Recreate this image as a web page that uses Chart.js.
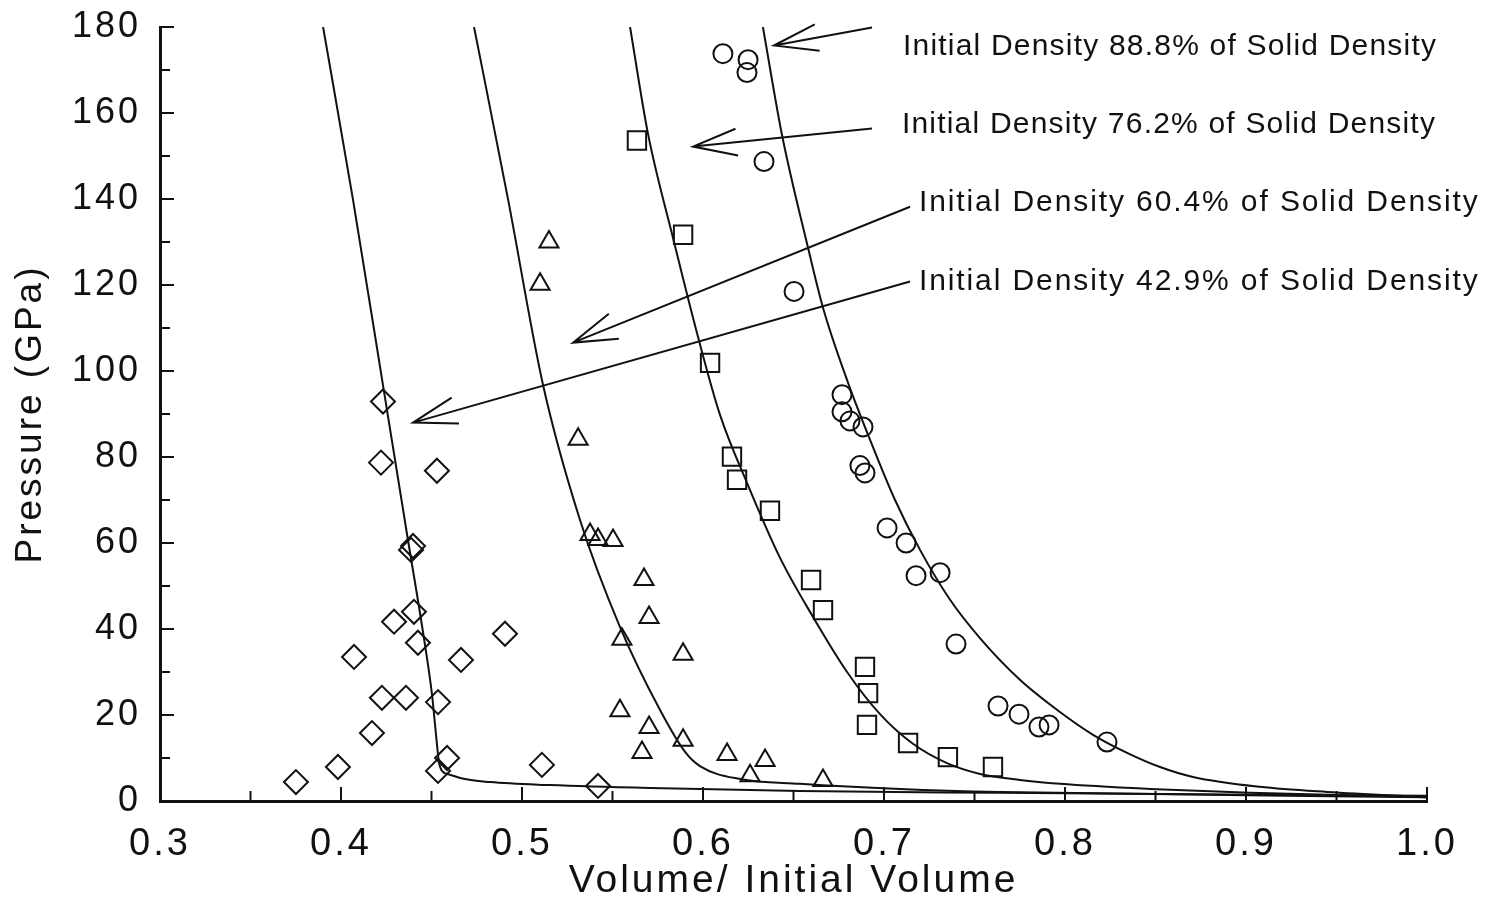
<!DOCTYPE html>
<html>
<head>
<meta charset="utf-8">
<title>Pressure vs Volume</title>
<script src="https://cdn.jsdelivr.net/npm/chart.js@4.4.0/dist/chart.umd.min.js"></script>
<style>
  html, body { margin: 0; padding: 0; background: #fff; }
  canvas { display: block; }
</style>
</head>
<body>
<canvas id="hugoniot" width="1486" height="907"></canvas>
<script>
// shock data, [V/V0, P in GPa], one list per starting density
const pts888 = [[0.611,173.8],[0.6249,172.4],[0.6243,169.4],[0.6337,148.7],[0.6503,118.5],
  [0.6768,94.5],[0.6768,90.5],[0.6812,88.4],[0.6884,87.0],[0.6867,78.0],[0.6895,76.3],
  [0.7017,63.5],[0.7122,60.0],[0.7177,52.4],[0.731,53.1],[0.7398,36.5],[0.763,22.1],
  [0.7746,20.2],[0.7856,17.2],[0.7912,17.7],[0.8232,13.7]]
const pts762 = [[0.5635,153.6],[0.589,131.7],[0.6039,101.9],[0.616,80.1],[0.6188,74.7],
  [0.637,67.5],[0.6597,51.4],[0.6663,44.4],[0.6895,31.2],[0.6912,25.1],[0.6906,17.7],
  [0.7133,13.5],[0.7353,10.2],[0.7602,7.9]]
const pts604 = [[0.5149,130.0],[0.51,120.2],[0.531,84.1],[0.5376,62.0],[0.542,60.8],
  [0.5503,60.6],[0.5674,51.5],[0.5702,42.7],[0.5552,37.6],[0.589,34.1],[0.5541,21.0],
  [0.5702,17.1],[0.5663,11.3],[0.589,14.1],[0.6133,10.8],[0.6343,9.4],[0.626,5.9],[0.6663,4.75]]
const pts429 = [[0.4232,92.9],[0.4221,78.7],[0.453,76.8],[0.4387,58.4],[0.4398,59.3],
  [0.4403,44.0],[0.4293,41.7],[0.4425,36.8],[0.4072,33.5],[0.4663,32.8],[0.4906,38.9],
  [0.4226,24.0],[0.4359,24.0],[0.4536,23.0],[0.4171,15.8],[0.4586,10.0],[0.4536,7.0],
  [0.3983,7.9],[0.3751,4.4],[0.511,8.4],[0.542,3.5]]

// calculated Hugoniots
const curve888 = [[0.6331,180],[0.6436,155.0],[0.658,128.7],[0.6663,114.7],[0.6801,97.3],
  [0.6923,84.0],[0.7061,70.0],[0.7199,58.4],[0.7365,46.8],[0.753,37.9],[0.7751,28.2],
  [0.7972,20.7],[0.8155,15.4],[0.8343,11.2],[0.8525,7.9],[0.8707,5.6],[0.9077,3.3],
  [0.9448,2.1],[1.0,0.9]]
const curve762 = [[0.5597,180],[0.5696,155.2],[0.5834,131.0],[0.5972,108.0],[0.6094,89.8],
  [0.6243,74.0],[0.6425,56.6],[0.6608,42.8],[0.6796,30.0],[0.6978,20.2],[0.716,13.3],
  [0.7348,8.8],[0.753,6.3],[0.7751,4.9],[0.7972,4.0],[0.847,2.8],[0.9022,1.9],[1.0,0.9]]
const curve604 = [[0.4735,180],[0.4923,139.9],[0.5116,96.8],[0.532,65.4],[0.5541,40.5],
  [0.5762,21.2],[0.5901,11.4],[0.5983,8.1],[0.6204,5.1],[0.6536,4.0],[0.7088,2.8],
  [0.7641,2.1],[1.0,0.9]]
const curve429 = [[0.3901,180],[0.4066,139.9],[0.4227,98.0],[0.437,60.7],[0.4453,39.3],
  [0.4503,24.7],[0.4525,15.4],[0.4541,9.1],[0.4558,7.0],[0.4602,6.1],[0.4685,5.1],
  [0.4823,4.4],[0.5155,3.7],[0.5707,3.0],[0.6536,2.3],[0.7641,1.9],[1.0,1.2]]

const densityLabels = [
  'Initial Density 88.8% of Solid Density',
  'Initial Density 76.2% of Solid Density',
  'Initial Density 60.4% of Solid Density',
  'Initial Density 42.9% of Solid Density'
]

const FONT = '"Liberation Sans", Arial, sans-serif'
const xy = arr => arr.map(p => ({x: p[0], y: p[1]}))

function curve(pts) {
  return {
    type: 'line', data: xy(pts), borderColor: '#111', borderWidth: 2,
    pointRadius: 0, fill: false, cubicInterpolationMode: 'monotone'
  }
}
function markers(pts, style, r) {
  return {
    type: 'scatter', data: xy(pts), pointStyle: style, pointRadius: r,
    borderColor: '#111', borderWidth: 2, backgroundColor: 'rgba(0,0,0,0)'
  }
}

// label text and arrow (tail -> tip) in data units
const notes = [
  {text: densityLabels[0], at: [0.7105, 175.5], tail: [0.6934, 179.9], tip: [0.6392, 175.7], ls: 1.2},
  {text: densityLabels[1], at: [0.7099, 157.3], tail: [0.6934, 156.4], tip: [0.5945, 152.2], ls: 1.2},
  {text: densityLabels[2], at: [0.7193, 139.2], tail: [0.7144, 138.2], tip: [0.5282, 106.6], ls: 1.9},
  {text: densityLabels[3], at: [0.7193, 120.8], tail: [0.7144, 120.8], tip: [0.4398, 88.0], ls: 1.9}
]

// wider letter spacing for axis text, off again before the data
const spacing = {
  id: 'spacing',
  beforeDraw(chart) { chart.ctx.letterSpacing = '3px' },
  beforeDatasetsDraw(chart) { chart.ctx.letterSpacing = '0px' }
}

// inward tick marks, major and minor
const innerTicks = {
  id: 'innerTicks',
  afterDraw(chart) {
    const {ctx, chartArea: a, scales: {x, y}} = chart
    ctx.save()
    ctx.strokeStyle = '#111'
    ctx.lineWidth = 2
    ctx.beginPath()
    for (let v = 0; v <= 180; v += 10) {
      const py = y.getPixelForValue(v)
      ctx.moveTo(a.left, py)
      ctx.lineTo(a.left + (v % 20 === 0 ? 14 : 10), py)
    }
    for (let i = 0; i <= 14; i++) {
      const px = x.getPixelForValue(0.3 + i * 0.05)
      ctx.moveTo(px, a.bottom)
      ctx.lineTo(px, a.bottom - (i % 2 === 0 ? 14 : 10))
    }
    ctx.stroke()
    ctx.restore()
  }
}

const callouts = {
  id: 'callouts',
  afterDraw(chart) {
    const {ctx, scales: {x, y}} = chart
    const px = p => [x.getPixelForValue(p[0]), y.getPixelForValue(p[1])]
    ctx.save()
    ctx.strokeStyle = '#111'
    ctx.fillStyle = '#111'
    ctx.lineWidth = 2
    ctx.font = '30px ' + FONT
    ctx.textAlign = 'left'
    ctx.textBaseline = 'middle'
    notes.forEach(n => {
      const [tx, ty] = px(n.at)
      ctx.letterSpacing = n.ls + 'px'
      ctx.fillText(n.text, tx, ty)
      const [x0, y0] = px(n.tail)
      const [x1, y1] = px(n.tip)
      const ang = Math.atan2(y0 - y1, x0 - x1)
      const head = 46, spread = 17 * Math.PI / 180
      ctx.beginPath()
      ctx.moveTo(x0, y0)
      ctx.lineTo(x1, y1)
      ctx.moveTo(x1 + head * Math.cos(ang - spread), y1 + head * Math.sin(ang - spread))
      ctx.lineTo(x1, y1)
      ctx.lineTo(x1 + head * Math.cos(ang + spread), y1 + head * Math.sin(ang + spread))
      ctx.stroke()
    })
    ctx.restore()
  }
}

new Chart(document.getElementById('hugoniot'), {
  type: 'scatter',
  data: {
    datasets: [
      curve(curve888), curve(curve762), curve(curve604), curve(curve429),
      markers(pts888, 'circle', 9.5),
      markers(pts762, 'rect', 13),
      markers(pts604, 'triangle', 11),
      markers(pts429, 'rectRot', 12)
    ]
  },
  options: {
    responsive: false,
    animation: false,
    devicePixelRatio: 1,
    layout: { padding: { top: 27, right: 59, left: 0, bottom: 0 } },
    plugins: { legend: { display: false }, tooltip: { enabled: false } },
    scales: {
      x: {
        type: 'linear', min: 0.3, max: 1.0,
        grid: { display: false, drawTicks: false },
        border: { display: true, color: '#111', width: 3 },
        ticks: {
          stepSize: 0.1, padding: 21, color: '#111',
          font: { family: FONT, size: 38 },
          callback: v => v.toFixed(1)
        },
        title: {
          display: true, text: 'Volume/ Initial Volume', color: '#111',
          font: { family: FONT, size: 39 }, padding: { top: 0, bottom: 2 }
        },
        afterFit: s => { s.height = 106; s.paddingLeft = 0; s.paddingRight = 0 }
      },
      y: {
        type: 'linear', min: 0, max: 180,
        grid: { display: false, drawTicks: false },
        border: { display: true, color: '#111', width: 3 },
        ticks: {
          stepSize: 20, padding: 19, color: '#111',
          font: { family: FONT, size: 36 }
        },
        title: {
          display: true, text: 'Pressure (GPa)', color: '#111',
          font: { family: FONT, size: 37 }, padding: { top: 9, bottom: 0 }
        },
        afterFit: s => { s.width = 160; s.paddingTop = 0; s.paddingBottom = 0 }
      }
    }
  },
  plugins: [spacing, innerTicks, callouts]
})
</script>
</body>
</html>
